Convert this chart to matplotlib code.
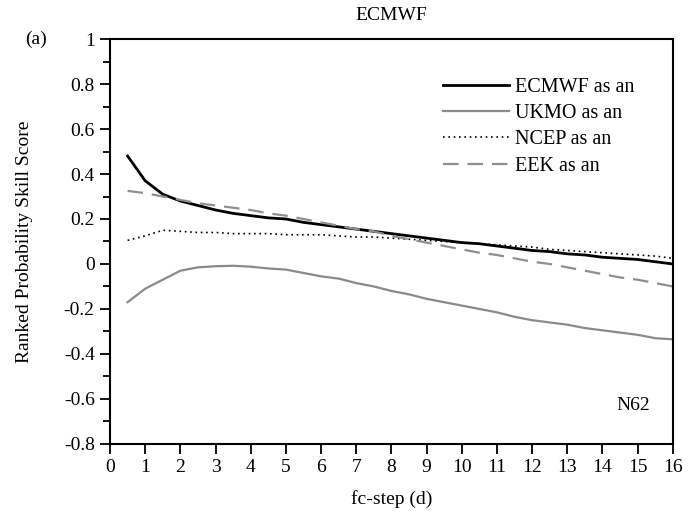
import numpy as np
import matplotlib.pyplot as plt
from matplotlib.ticker import MultipleLocator

plt.rcParams['font.family'] = ['Liberation Serif', 'DejaVu Serif']

# forecast step (days)
steps = [0.5, 1, 1.5, 2, 2.5, 3, 3.5, 4, 4.5, 5, 5.5, 6, 6.5, 7, 7.5, 8,
         8.5, 9, 9.5, 10, 10.5, 11, 11.5, 12, 12.5, 13, 13.5, 14, 14.5, 15,
         15.5, 16]

ecmwf = [0.48, 0.37, 0.31, 0.28, 0.26, 0.24, 0.225, 0.215, 0.205, 0.2, 0.185,
         0.175, 0.165, 0.155, 0.145, 0.135, 0.125, 0.115, 0.105, 0.095, 0.09,
         0.08, 0.07, 0.06, 0.055, 0.045, 0.04, 0.03, 0.025, 0.02, 0.01, 0.0]

ukmo = [-0.17, -0.11, -0.07, -0.03, -0.015, -0.01, -0.008, -0.012, -0.02,
        -0.025, -0.04, -0.055, -0.065, -0.085, -0.1, -0.12, -0.135, -0.155,
        -0.17, -0.185, -0.2, -0.215, -0.235, -0.25, -0.26, -0.27, -0.285,
        -0.295, -0.305, -0.315, -0.33, -0.335]

ncep = [0.105, 0.125, 0.15, 0.145, 0.14, 0.14, 0.135, 0.135, 0.135, 0.13, 0.13,
        0.13, 0.125, 0.12, 0.12, 0.115, 0.11, 0.105, 0.1, 0.095, 0.09, 0.085,
        0.08, 0.075, 0.065, 0.06, 0.055, 0.05, 0.045, 0.04, 0.035, 0.025]

eek = [0.325, 0.315, 0.3, 0.285, 0.27, 0.26, 0.25, 0.24, 0.225, 0.215, 0.2,
       0.185, 0.17, 0.155, 0.145, 0.125, 0.11, 0.095, 0.08, 0.065, 0.05, 0.04,
       0.025, 0.01, 0.0, -0.015, -0.03, -0.045, -0.06, -0.07, -0.085, -0.1]

yticks = [-0.8, -0.6, -0.4, -0.2, 0, 0.2, 0.4, 0.6, 0.8, 1]
ylabels = ['-0.8', '-0.6', '-0.4', '-0.2', '0', '0.2', '0.4', '0.6', '0.8', '1']

fig = plt.figure(figsize=(6.94, 5.21), dpi=100)
ax = fig.add_axes([0.1585, 0.148, 0.811, 0.777])

ax.plot(steps, ecmwf, color='black', lw=2.0, label='ECMWF as an')
ax.plot(steps, ukmo, color='#8a8a8a', lw=1.6, label='UKMO as an')
ax.plot(steps, ncep, color='black', lw=1.2, ls=(0, (1, 2.2)), label='NCEP as an')
ax.plot(steps, eek, color='#8f8f8f', lw=1.6, ls=(0, (7, 4)), label='EEK as an')

ax.set_xlim(0, 16)
ax.set_ylim(-0.8, 1)
ax.set_xticks(range(0, 17))
ax.set_yticks(yticks)
ax.set_yticklabels(ylabels)
ax.yaxis.set_minor_locator(MultipleLocator(0.1))
ax.tick_params(direction='out', length=7, width=1.3, labelsize=14, pad=4)
ax.tick_params(which='minor', direction='out', length=5, width=1.3)
for s in ax.spines.values():
    s.set_linewidth(1.5)

ax.set_xlabel('fc-step (d)', fontsize=14, labelpad=10)
ax.set_ylabel('Ranked Probability Skill Score', fontsize=14, labelpad=22)
ax.set_title('ECMWF', fontsize=14, pad=14)
fig.text(0.036, 0.925, '(a)', fontsize=14, va='center')
ax.text(15.35, -0.63, 'N62', fontsize=14, ha='right', va='center')

ax.legend(loc='upper left', bbox_to_anchor=(0.591, 0.905), frameon=False,
          fontsize=14.5, handlelength=3.3, handletextpad=0.3,
          labelspacing=0.36, borderpad=0, borderaxespad=0)

fig.savefig('out.png', dpi=100)
